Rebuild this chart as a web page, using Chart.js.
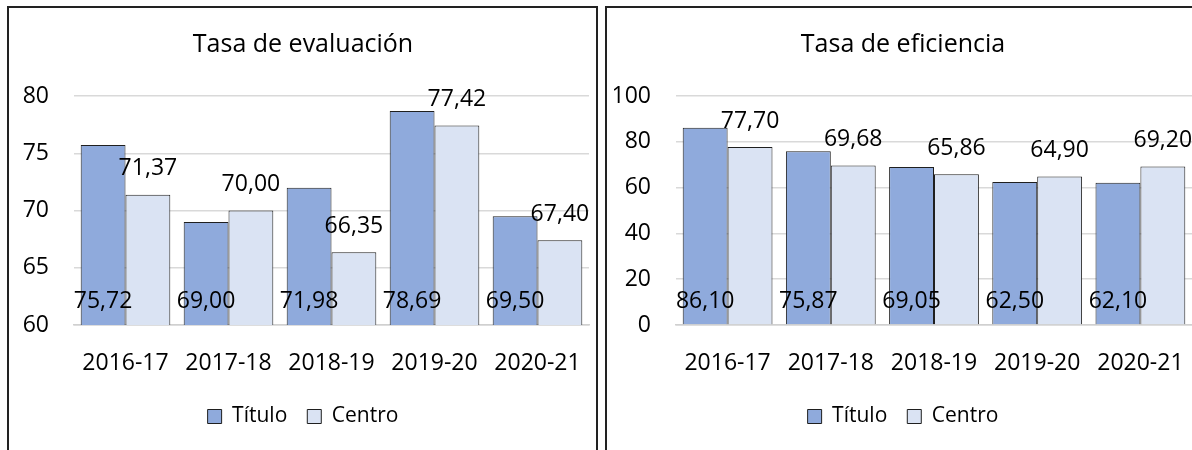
<!DOCTYPE html>
<html lang="es">
<head>
<meta charset="UTF-8">
<title>Tasas</title>
<script src="https://cdn.jsdelivr.net/npm/chart.js@4.4.1/dist/chart.umd.min.js"></script>
<style>
    html, body { margin: 0; padding: 0; background: #fff; overflow: hidden; width: 1192px; height: 450px; }
    .panel { position: absolute; top: 6px; height: 460px; border: 2px solid #222; border-bottom: none; }
    #panel-eval { left: 7px; width: 587px; }
    #panel-efic { left: 605px; width: 592px; }
    .panel canvas { display: block; }
</style>
</head>
<body>
<div class="panel" id="panel-eval"><canvas id="chartEval" width="587" height="442"></canvas></div>
<div class="panel" id="panel-efic"><canvas id="chartEfic" width="592" height="442"></canvas></div>

<script>
// datos
const cursos = ['2016-17', '2017-18', '2018-19', '2019-20', '2020-21'];
const series = ['Título', 'Centro'];

const tituloEvaluacion = [75.72, 69.00, 71.98, 78.69, 69.50];
const centroEvaluacion = [71.37, 70.00, 66.35, 77.42, 67.40];
const ticksEvaluacion = [60, 65, 70, 75, 80];

const tituloEficiencia = [86.10, 75.87, 69.05, 62.50, 62.10];
const centroEficiencia = [77.70, 69.68, 65.86, 64.90, 69.20];
const ticksEficiencia = [0, 20, 40, 60, 80, 100];

const FUENTE = '"Open Sans", "Noto Sans", sans-serif';

// formato con coma decimal
function formatoValor(v) {
    return v.toFixed(2).replace('.', ',');
}

// etiquetas de datos: Título en la base, Centro encima de la barra
const etiquetasPlugin = {
    id: 'etiquetas',
    afterDatasetsDraw(chart) {
        const ctx = chart.ctx;
        const fondo = chart.chartArea.bottom;
        ctx.save();
        ctx.font = '23px ' + FUENTE;
        ctx.fillStyle = '#000';
        ctx.textAlign = 'center';
        ctx.textBaseline = 'middle';
        chart.data.datasets.forEach((ds, i) => {
            const meta = chart.getDatasetMeta(i);
            meta.data.forEach((bar, j) => {
                const y = i === 0 ? fondo - 24 : bar.y - 26;
                ctx.fillText(formatoValor(ds.data[j]), bar.x, y);
            });
        });
        ctx.restore();
    }
};

// crear un gráfico de barras
function crearGrafico(id, titulo, datosTitulo, datosCentro, ticks, padIzq, anchoEje) {
    const ctx = document.getElementById(id).getContext('2d');
    return new Chart(ctx, {
        type: 'bar',
        data: {
            labels: cursos,
            datasets: [
                {
                    label: series[0],
                    data: datosTitulo,
                    backgroundColor: '#8faadc',
                    borderColor: '#1f1f1f',
                    borderWidth: 1,
                    categoryPercentage: 0.87,
                    barPercentage: 1
                },
                {
                    label: series[1],
                    data: datosCentro,
                    backgroundColor: '#dae3f3',
                    borderColor: '#1f1f1f',
                    borderWidth: 1,
                    categoryPercentage: 0.87,
                    barPercentage: 1
                }
            ]
        },
        options: {
            responsive: false,
            animation: false,
            layout: {
                padding: { left: padIzq, right: 7, top: 0, bottom: 13 }
            },
            scales: {
                x: {
                    grid: { display: false },
                    border: { display: true, color: '#d0d0d0', width: 1.5 },
                    ticks: {
                        color: '#000',
                        padding: 17,
                        maxRotation: 0,
                        font: { family: FUENTE, size: 23 }
                    },
                    afterFit: function(scale) {
                        scale.height = 61;
                        scale.paddingLeft = 0;
                        scale.paddingRight = 0;
                    }
                },
                y: {
                    min: ticks[0],
                    max: ticks[ticks.length - 1],
                    afterBuildTicks: function(scale) {
                        scale.ticks = ticks.map(v => ({ value: v }));
                    },
                    grid: { color: '#d9d9d9', lineWidth: 1.5, drawTicks: false },
                    border: { display: false },
                    ticks: {
                        color: '#000',
                        padding: 25,
                        font: { family: FUENTE, size: 23 }
                    },
                    afterFit: function(scale) { scale.width = anchoEje; }
                }
            },
            plugins: {
                title: {
                    display: true,
                    text: titulo,
                    color: '#000',
                    font: { family: FUENTE, size: 25, weight: 'normal' },
                    padding: { top: 22, bottom: 36 }
                },
                legend: {
                    display: true,
                    position: 'bottom',
                    labels: {
                        color: '#000',
                        boxWidth: 14,
                        boxHeight: 14,
                        padding: 20,
                        font: { family: FUENTE, size: 21 }
                    }
                },
                tooltip: { enabled: false }
            }
        },
        plugins: [etiquetasPlugin]
    });
}

window.onload = function() {
    crearGrafico('chartEval', 'Tasa de evaluación', tituloEvaluacion, centroEvaluacion, ticksEvaluacion, 8, 57);
    crearGrafico('chartEfic', 'Tasa de eficiencia', tituloEficiencia, centroEficiencia, ticksEficiencia, 7, 62);
};
</script>
</body>
</html>
